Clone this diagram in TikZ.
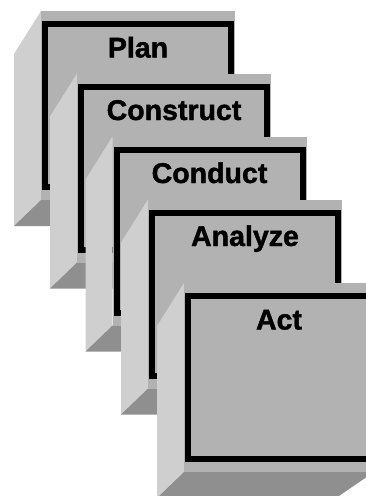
\documentclass[tikz,border=0pt]{standalone}
\usepackage{fontspec}
\setmainfont{Liberation Sans}
\definecolor{facefront}{gray}{0.70}
\definecolor{faceleft}{gray}{0.81}
\definecolor{facebottom}{gray}{0.56}
\tikzset{
  front/.style={fill=facefront},
  leftside/.style={fill=faceleft},
  bottomside/.style={fill=facebottom},
  frame/.style={draw=black, line width=4.5pt, line join=miter},
  stagelabel/.style={anchor=base, inner sep=0pt,
    font=\fontsize{21.4}{24}\selectfont\bfseries\addfontfeature{FakeBold=1.4}}
}
% #1 node name, #2 left x, #3 top y, #4 width, #5 label
\newcommand{\stagecube}[5]{%
  \fill[leftside] (#2,#3) -- ++(-27,43) -- ++(0,172) -- (#2,#3+189) -- cycle;
  \fill[bottomside] (#2,#3+189) -- (#2+#4,#3+189) -- ++(-38,26) -- (#2-27,#3+215) -- cycle;
  \fill[front] (#2,#3) rectangle (#2+#4,#3+189);
  \draw[frame] (#2+4,#3+13) rectangle (#2+#4-4,#3+176);
  \node[stagelabel] (#1) at (#2+#4/2,#3+46.5) {#5};
}
\begin{document}
\begin{tikzpicture}[x=0.75pt, y=-0.75pt]
  \useasboundingbox (0,0) rectangle (366,496);
  \clip (0,0) rectangle (366,496);
  \stagecube{plan}{41}{11}{194}{Plan}
  \stagecube{construct}{77}{73.5}{194}{Construct}
  \stagecube{conduct}{112.5}{136.5}{194}{Conduct}
  \stagecube{analyze}{148}{199.5}{194}{Analyze}
  \stagecube{act}{184}{283}{190}{Act}
\end{tikzpicture}
\end{document}
